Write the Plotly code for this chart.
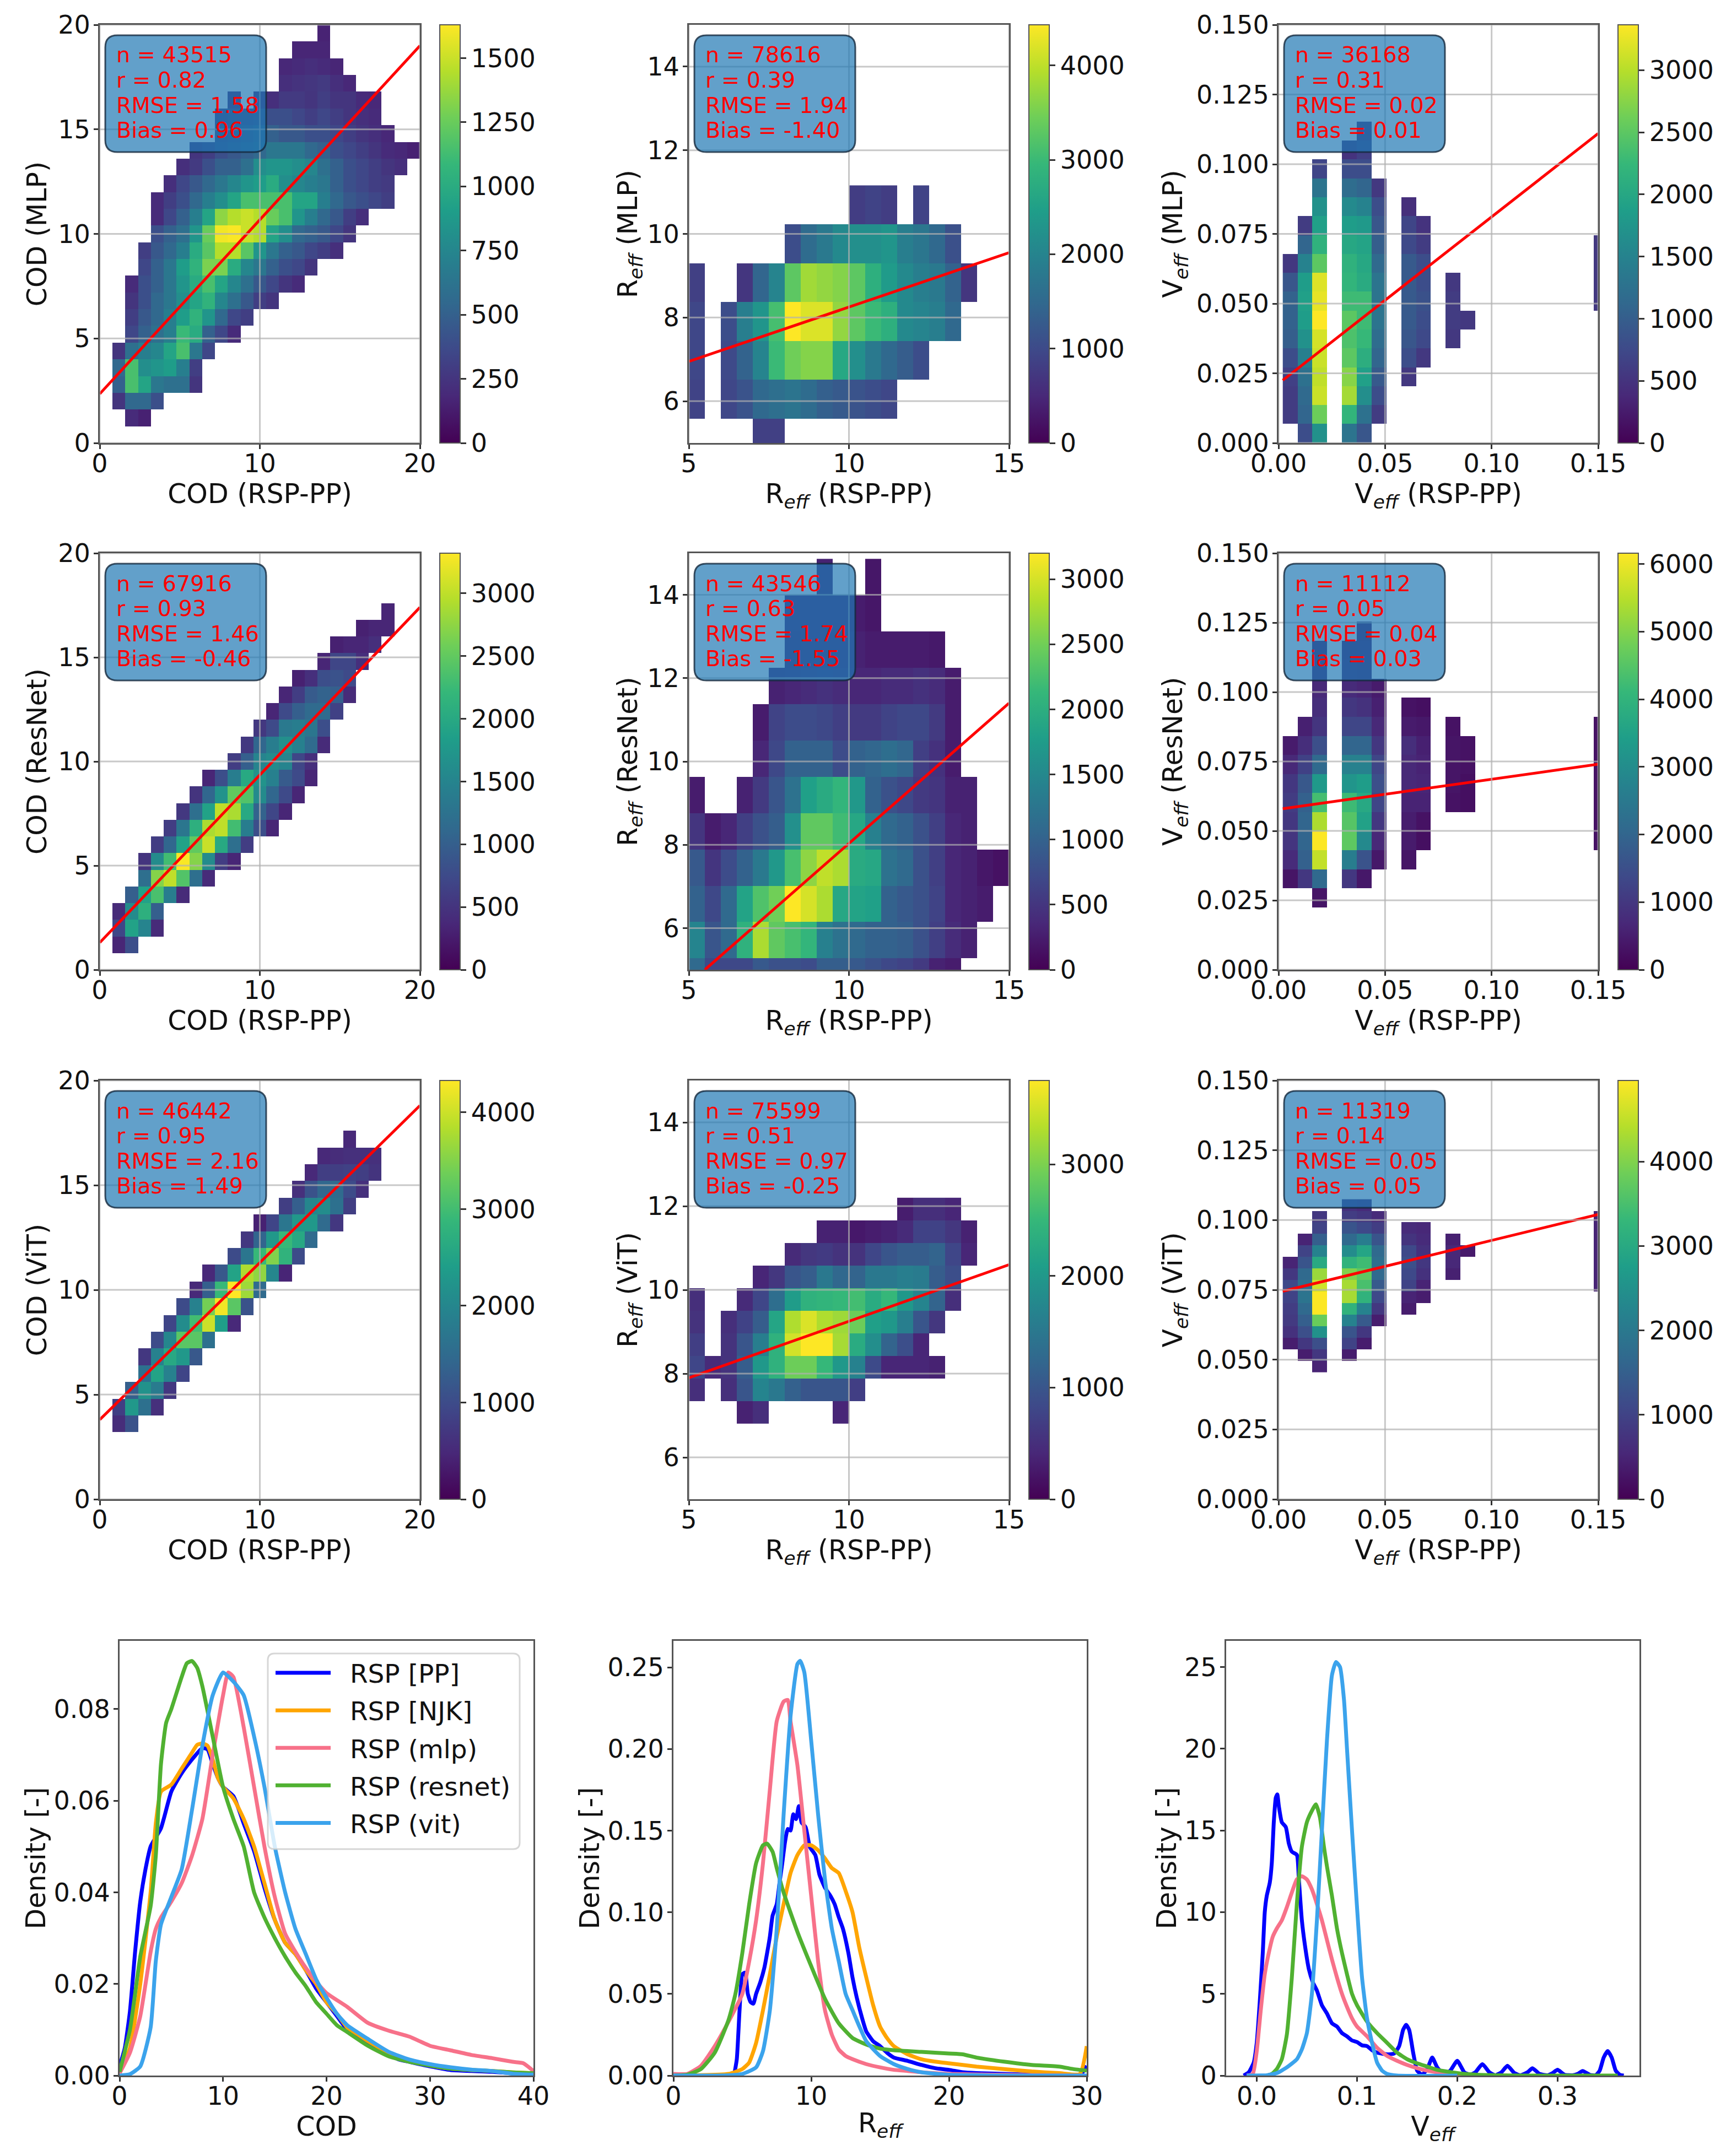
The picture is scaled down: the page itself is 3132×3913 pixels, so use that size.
import numpy as np
import plotly.graph_objects as go

W, H = 3132, 3913
FONT = "DejaVu Sans"
BODY_MARGIN = 8  # browser default margin round the plot div

# ---- 2d histogram counts as (line, first cell, values)
COD_MLP = [
    (1, 2, [200, 150]),
    (2, 1, [250, 550, 550, 400]),
    (3, 1, [500, 1150, 950, 650, 600, 600, 250]),
    (4, 1, [550, 1150, 800, 850, 900, 700, 300]),
    (5, 1, [250, 600, 700, 750, 950, 1150, 650, 350]),
    (6, 2, [350, 500, 600, 700, 1100, 1000, 500, 350, 200]),
    (7, 2, [300, 450, 550, 700, 900, 1050, 850, 550, 350, 300]),
    (8, 2, [250, 400, 550, 650, 800, 950, 1050, 750, 600, 450, 300, 250]),
    (9, 2, [200, 400, 500, 650, 850, 1000, 1150, 950, 750, 600, 450, 350, 250, 200]),
    (10, 3, [350, 500, 650, 900, 1050, 1300, 1300, 1000, 750, 650, 500, 400, 350, 250]),
    (11, 3, [300, 450, 550, 700, 1000, 1200, 1450, 1450, 1200, 850, 650, 500, 450, 350, 300, 220]),
    (12, 4, [400, 500, 600, 850, 1250, 1600, 1620, 1500, 1450, 950, 800, 550, 500, 450, 350, 250]),
    (13, 4, [200, 350, 500, 700, 950, 1350, 1450, 1500, 1450, 1250, 1150, 850, 700, 550, 450, 300, 220]),
    (14, 4, [200, 300, 400, 550, 700, 800, 950, 1150, 1150, 1150, 1150, 950, 950, 700, 550, 450, 400, 350, 300]),
    (15, 5, [220, 350, 450, 550, 650, 750, 850, 900, 1000, 800, 750, 700, 650, 500, 400, 350, 300, 280]),
    (16, 6, [220, 280, 400, 500, 500, 600, 800, 850, 850, 800, 750, 600, 500, 400, 350, 300, 250, 220]),
    (17, 7, [250, 300, 400, 450, 500, 550, 650, 650, 650, 550, 500, 400, 350, 300, 250, 200, 180, 150]),
    (18, 9, [350, 400, 450, 500, 500, 450, 450, 400, 400, 350, 300, 250, 220, 180]),
    (19, 9, [300, 350, 350, 400, 400, 400, 350, 300, 350, 300, 250, 220, 200]),
    (20, 10, [200]),
    (20, 12, [200, 220, 280, 280, 250, 300, 250, 250, 200, 180]),
    (21, 14, [220, 240, 260, 280, 220, 180]),
    (22, 14, [180, 200, 220, 200, 170]),
    (23, 15, [170, 170, 170]),
    (24, 17, [160]),
]
REFF_MLP = [
    (0, 4, [850, 850]),
    (1, 0, [900]),
    (1, 2, [950, 1150, 1500, 1600, 1700, 1550, 1350, 1250, 1150, 1050, 950]),
    (2, 0, [950]),
    (2, 2, [1000, 1400, 2000, 3000, 3450, 3600, 3600, 2650, 2200, 1800, 1500, 1300, 1050]),
    (3, 0, [950]),
    (3, 2, [1050, 1900, 2300, 3100, 4430, 4200, 4200, 3700, 3300, 3000, 2800, 2100, 2000, 1900, 1500]),
    (4, 0, [850]),
    (4, 3, [700, 1450, 2000, 3300, 3800, 3700, 3600, 3300, 2800, 2400, 2100, 1900, 1800, 1400, 700]),
    (5, 6, [1050, 1550, 1800, 2100, 2200, 2200, 2300, 1900, 1750, 1500, 1100]),
    (6, 10, [800, 900, 800]),
    (6, 14, [900]),
]
VEFF_MLP = [
    (0, 1, [600, 600, 650, 800, 1000, 1050, 1050, 900, 550]),
    (1, 0, [800, 1100, 1150, 1250, 1450, 1700, 1850, 1900, 1850, 1500, 1100, 600]),
    (2, 0, [1700, 2600, 3100, 3050, 3100, 3150, 3370, 3250, 3200, 2500, 2150, 1900, 1700, 1300, 700]),
    (4, 0, [1300, 2200, 2900, 2750, 2500, 2400, 2500, 2300, 2200, 2150, 2000, 1850, 1600, 1200, 800, 500]),
    (5, 0, [900, 1250, 1650, 1900, 2100, 2250, 2300, 2300, 2050, 2000, 1950, 1800, 1500, 1100, 800, 650, 500]),
    (6, 1, [600, 800, 950, 1100, 1200, 1300, 1300, 1300, 1150, 1000, 900, 800, 550]),
    (8, 3, [550, 800, 900, 950, 950, 950, 950, 750, 700, 450]),
    (9, 4, [550, 750, 800, 850, 800, 800, 600, 500]),
    (11, 5, [550, 600, 600, 550]),
    (12, 6, [550]),
    (21, 7, [550, 550, 550, 550]),
]
COD_RESNET = [
    (1, 1, [350, 800]),
    (2, 1, [700, 1900, 1500, 400]),
    (3, 1, [400, 1600, 2100, 1000]),
    (4, 2, [1000, 1900, 2350, 1400, 400]),
    (5, 3, [1200, 2700, 3000, 2400, 1200, 400]),
    (6, 3, [500, 1600, 2300, 3300, 2700, 1600, 600, 350]),
    (7, 4, [600, 1100, 1900, 2500, 3050, 2000, 1200, 600]),
    (8, 5, [600, 1300, 2100, 2900, 3000, 2300, 1400, 800, 350]),
    (9, 6, [550, 1200, 1900, 3000, 2900, 2000, 1050, 700, 350]),
    (10, 7, [500, 1100, 1700, 2500, 2400, 1600, 1100, 750, 350]),
    (11, 8, [350, 800, 1400, 2000, 1700, 1450, 950, 750, 350]),
    (12, 10, [600, 1000, 1500, 1600, 1500, 700, 450]),
    (13, 11, [550, 1100, 1400, 1650, 1450, 1150, 400]),
    (14, 12, [550, 750, 1350, 1400, 1300, 800]),
    (15, 13, [350, 750, 1000, 1150, 1150, 650]),
    (16, 14, [350, 600, 950, 1050, 1000, 400]),
    (17, 15, [300, 450, 800, 850, 750]),
    (18, 17, [350, 700, 700, 450]),
    (19, 18, [300, 350, 350, 450]),
    (20, 20, [300, 350, 350]),
    (21, 22, [350]),
]
REFF_RESNET = [
    (0, 0, [1100, 700, 700, 700, 900, 800, 800, 750, 950, 950, 900, 800, 700, 650, 550, 300, 250]),
    (1, 0, [1450, 850, 1100, 2050, 2800, 2400, 2250, 2100, 1400, 1200, 1100, 1000, 1000, 950, 800, 600, 400, 300]),
    (2, 0, [1000, 700, 1100, 1850, 2300, 2500, 3200, 3000, 2800, 1900, 1850, 1800, 1000, 900, 800, 650, 350, 300, 250]),
    (3, 0, [900, 500, 750, 1000, 1300, 1700, 2250, 2650, 2900, 2800, 1950, 1900, 1200, 1100, 800, 600, 350, 300, 200, 150]),
    (4, 0, [500, 250, 350, 600, 800, 950, 1600, 2400, 2400, 2200, 1900, 1400, 1100, 1000, 800, 600, 350, 300]),
    (5, 0, [250]),
    (5, 3, [300, 550, 850, 1200, 1800, 1950, 2100, 1700, 1000, 800, 700, 550, 500, 300, 300]),
    (6, 4, [350, 700, 1000, 1000, 1000, 750, 1000, 1050, 1150, 1050, 600, 450, 250]),
    (7, 4, [250, 650, 750, 750, 700, 600, 550, 550, 650, 700, 700, 550, 250]),
    (8, 5, [300, 350, 400, 450, 400, 350, 350, 400, 400, 450, 400, 250]),
    (9, 6, [300, 350, 350, 350, 300, 250, 250, 250, 250, 220]),
    (10, 6, [350, 350, 350, 350, 250, 200]),
    (11, 8, [300]),
    (11, 11, [200]),
]
VEFF_RESNET = [
    (0, 1, [350, 750, 950, 1000, 1100, 1000, 700, 450]),
    (1, 1, [1000, 1900, 2000, 2000, 1900, 1700, 1200, 800, 550]),
    (2, 0, [350, 2100, 5600, 6150, 5400, 4300, 3300, 2100, 1500, 950, 800, 700, 550, 400]),
    (4, 1, [1000, 2600, 4600, 4500, 4200, 3200, 2700, 2000, 1300, 1000, 750, 600, 450]),
    (5, 1, [400, 1600, 2900, 3500, 3700, 3400, 2700, 2000, 1300, 900, 650, 550, 500, 400]),
    (6, 2, [400, 700, 1000, 1300, 1500, 1300, 1000, 700, 550, 450]),
    (8, 2, [350, 450, 500, 600, 700, 700, 800, 450, 300]),
    (9, 3, [250, 300, 600, 650, 600, 550, 400, 250]),
    (11, 5, [300, 350, 350, 350, 300]),
    (12, 5, [250, 250, 300, 300]),
    (21, 3, [300, 300, 300, 300, 300, 300, 300]),
]
COD_VIT = [
    (4, 1, [550, 1100]),
    (5, 1, [800, 2300, 1600, 600]),
    (6, 2, [1300, 2200, 1800, 700]),
    (7, 3, [1600, 2500, 1900, 900]),
    (8, 3, [700, 1900, 2600, 2300, 1200]),
    (9, 4, [1000, 2000, 3200, 3200, 1600]),
    (10, 5, [900, 2100, 3000, 4000, 2400, 500]),
    (11, 6, [1000, 1900, 3400, 4250, 3200, 1100]),
    (12, 7, [500, 1300, 2900, 4330, 3700, 1500]),
    (13, 8, [500, 1200, 2500, 3800, 3600, 2000, 450]),
    (14, 10, [1000, 1700, 2900, 3500, 2800, 1000]),
    (15, 11, [700, 1400, 2300, 2900, 2600, 1500]),
    (16, 12, [400, 900, 1700, 2300, 2300, 1500, 700]),
    (17, 14, [800, 1300, 2000, 2100, 1600, 800]),
    (18, 15, [600, 1100, 1450, 1500, 1000, 600]),
    (19, 16, [500, 800, 800, 850, 800, 650]),
    (20, 17, [500, 550, 600, 600, 600]),
    (21, 19, [500]),
]
REFF_VIT = [
    (0, 3, [350, 500]),
    (0, 9, [400]),
    (1, 0, [500]),
    (1, 2, [500, 1000, 1700, 1500, 1150, 1000, 1000, 1000, 700]),
    (2, 0, [800, 450, 550, 1100, 2000, 2400, 2900, 2900, 2500, 2000, 1650, 850, 400, 400, 400, 350]),
    (3, 0, [700]),
    (3, 2, [550, 1000, 1600, 2400, 3500, 3750, 3750, 3250, 2300, 1850, 1200, 900, 400]),
    (4, 0, [550]),
    (4, 2, [500, 750, 1100, 2200, 3300, 3550, 3300, 3200, 2900, 2100, 2000, 1600, 1000, 600]),
    (5, 0, [500]),
    (5, 3, [450, 800, 1350, 2050, 2400, 2450, 2500, 2600, 2300, 2500, 2000, 1700, 1200, 500]),
    (6, 4, [400, 600, 1000, 1100, 1500, 1250, 1200, 1500, 1500, 1600, 1550, 1100, 900]),
    (7, 6, [450, 600, 650, 550, 550, 800, 1000, 1100, 1100, 1200, 800, 400]),
    (8, 8, [350, 350, 250, 300, 350, 450, 750, 750, 600, 350]),
    (9, 13, [300, 500, 500, 400]),
]
VEFF_VIT = [
    (0, 2, [400, 700, 850, 900, 1000, 1100, 800, 500]),
    (1, 1, [400, 800, 1200, 1500, 1700, 1900, 1800, 1700, 1300, 1000, 500]),
    (2, 0, [500, 800, 1200, 2500, 3800, 4950, 4950, 4600, 4200, 3000, 2200, 1500, 1000, 800]),
    (4, 1, [400, 1000, 1300, 2200, 3200, 4300, 4300, 4000, 3200, 2400, 1700, 1300, 900, 700]),
    (5, 2, [400, 800, 1400, 2200, 3200, 3500, 3700, 3400, 2900, 2100, 1100, 800, 600]),
    (6, 4, [400, 800, 1100, 1400, 1700, 1800, 1700, 1300, 900, 600]),
    (8, 5, [400, 500, 1000, 1100, 1200, 1100, 750, 600]),
    (9, 6, [400, 500, 700, 800, 700, 600, 550]),
    (11, 8, [450, 550, 550, 450]),
    (12, 10, [350]),
    (21, 7, [500, 500, 500, 500, 500, 500, 500]),
]

# bin edges
COD_EDGES = np.arange(26) * 0.8
REFF_X_EDGES = 5 + np.arange(21) * 0.5
VEFF_X_EDGES = 0.002 + np.arange(23) * 0.00695
REFF_MLP_Y = 4.65 + np.arange(8) * 0.93
REFF_RESNET_Y = 4.40 + np.arange(13) * 0.872
REFF_VIT_Y = 6.81 + np.arange(11) * 0.539
VEFF_MLP_Y = np.arange(18) * 0.00678
VEFF_RESNET_Y = 0.0225 + np.arange(16) * 0.00686
VEFF_VIT_Y = 0.0455 + np.arange(16) * 0.00413

# regression lines, (x0, x1), (y0, y1)
FIT_LINES = [
    ((0, 20), (2.35, 19.0)), ((5, 15), (6.95, 9.55)), ((0.002, 0.15), (0.0225, 0.111)),
    ((0, 20), (1.3, 17.4)), ((5.5, 15), (5.0, 11.4)), ((0.002, 0.15), (0.058, 0.074)),
    ((0, 20), (3.8, 18.8)), ((5, 15), (7.9, 10.6)), ((0.002, 0.15), (0.0745, 0.102)),
]
STATS = [
    ("43515", "0.82", "1.58", "0.96"), ("78616", "0.39", "1.94", "-1.40"), ("36168", "0.31", "0.02", "0.01"),
    ("67916", "0.93", "1.46", "-0.46"), ("43546", "0.63", "1.74", "-1.55"), ("11112", "0.05", "0.04", "0.03"),
    ("46442", "0.95", "2.16", "1.49"), ("75599", "0.51", "0.97", "-0.25"), ("11319", "0.14", "0.05", "0.05"),
]
ZMAX = [1630, 4430, 3365, 3320, 3200, 6160, 4330, 3750, 4960]
CBAR_TICK = [250, 1000, 500, 500, 500, 1000, 1000, 1000, 1000]

# ---- density curves
COD_X_PP = [0, 0.5, 1, 1.5, 2, 2.5, 3, 4, 5, 6, 7, 8, 8.5, 9, 9.5, 10, 11, 12, 13, 14, 15, 16, 17, 18, 19, 20, 21, 22, 23, 24, 25, 26, 27, 28, 30, 32, 34, 36, 38, 40]
COD_Y_PP = [0.002, 0.006, 0.014, 0.027, 0.038, 0.045, 0.05, 0.054, 0.062, 0.066, 0.069, 0.0715, 0.0712, 0.068, 0.065, 0.063, 0.061, 0.055, 0.049, 0.041, 0.034, 0.029, 0.0265, 0.023, 0.019, 0.016, 0.013, 0.01, 0.0085, 0.007, 0.0055, 0.0045, 0.0035, 0.003, 0.002, 0.0012, 0.001, 0.0008, 0.0005, 0.0003]
COD_X_NJK = [0, 1, 2, 3, 3.5, 4, 5, 6, 7, 7.5, 8, 8.5, 9, 9.5, 10, 11, 12, 13, 14, 15, 16, 17, 18, 19, 20, 21, 22, 23, 24, 25, 26, 27, 28, 30, 32, 34, 36, 38, 40]
COD_Y_NJK = [0.0005, 0.006, 0.02, 0.04, 0.055, 0.062, 0.0635, 0.067, 0.0705, 0.0722, 0.0725, 0.072, 0.069, 0.065, 0.063, 0.0605, 0.056, 0.05, 0.042, 0.034, 0.029, 0.0265, 0.023, 0.02, 0.016, 0.0135, 0.0105, 0.009, 0.0075, 0.0062, 0.005, 0.004, 0.0033, 0.0022, 0.0015, 0.0012, 0.001, 0.0007, 0.0005]
COD_X_MLP = [0, 1, 2, 3, 3.5, 4, 5, 6, 7, 8, 9, 10, 10.5, 11, 12, 13, 14, 15, 16, 17, 18, 19, 20, 22, 24, 26, 28, 30, 32, 34, 36, 38, 39, 40]
COD_Y_MLP = [0.0005, 0.005, 0.013, 0.027, 0.032, 0.0345, 0.038, 0.042, 0.048, 0.056, 0.07, 0.083, 0.088, 0.087, 0.076, 0.063, 0.05, 0.039, 0.031, 0.027, 0.0235, 0.0205, 0.018, 0.015, 0.0115, 0.0098, 0.0085, 0.0065, 0.0055, 0.0045, 0.0038, 0.003, 0.0027, 0.001]
COD_X_RES = [0, 1, 2, 3, 3.5, 4, 4.5, 5, 6, 6.5, 7, 7.5, 8, 9, 10, 11, 12, 13, 14, 15, 16, 17, 18, 19, 20, 21, 22, 24, 26, 28, 30, 32, 34, 36, 38, 40]
COD_Y_RES = [0.0008, 0.01, 0.026, 0.037, 0.048, 0.068, 0.077, 0.08, 0.087, 0.09, 0.0905, 0.089, 0.085, 0.074, 0.063, 0.056, 0.05, 0.04, 0.0345, 0.03, 0.026, 0.0225, 0.0195, 0.016, 0.0135, 0.011, 0.0095, 0.0065, 0.0042, 0.003, 0.0022, 0.0015, 0.0012, 0.001, 0.0007, 0.0005]
COD_X_VIT = [0, 1, 2, 3, 3.5, 4, 5, 6, 7, 8, 9, 10, 11, 12, 13, 14, 15, 16, 17, 18, 19, 20, 21, 22, 24, 26, 28, 30, 32, 34, 36, 38, 40]
COD_Y_VIT = [0, 0.0003, 0.002, 0.0105, 0.025, 0.033, 0.039, 0.045, 0.058, 0.072, 0.083, 0.088, 0.086, 0.083, 0.074, 0.063, 0.05, 0.04, 0.032, 0.0265, 0.021, 0.017, 0.0135, 0.011, 0.008, 0.0052, 0.0035, 0.0025, 0.0018, 0.0013, 0.001, 0.0004, 0.0002]

REFF_X_PP = [4.4, 4.6, 4.8, 5, 5.2, 5.4, 5.6, 5.8, 6, 6.3, 6.6, 6.8, 7, 7.2, 7.5, 7.7, 7.9, 8.1, 8.3, 8.5, 8.7, 8.9, 9.1, 9.3, 9.6, 9.9, 10.3, 10.6, 11, 11.4, 11.7, 12, 12.3, 12.7, 13, 13.3, 13.7, 14, 14.5, 15, 15.5, 16, 17, 18, 19, 20, 21, 22, 24, 26, 28, 29.5, 30]
REFF_Y_PP = [0, 0.01, 0.04, 0.062, 0.063, 0.05, 0.045, 0.044, 0.05, 0.057, 0.066, 0.075, 0.085, 0.098, 0.105, 0.118, 0.13, 0.143, 0.151, 0.15, 0.16, 0.157, 0.165, 0.155, 0.152, 0.14, 0.135, 0.123, 0.115, 0.11, 0.105, 0.097, 0.09, 0.075, 0.06, 0.048, 0.035, 0.027, 0.021, 0.018, 0.014, 0.011, 0.009, 0.0065, 0.0045, 0.0035, 0.002, 0.0015, 0.001, 0.0005, 0.0002, 0, 0.006]
REFF_X_NJK = [0, 4, 5, 5.5, 6, 6.5, 7, 7.5, 8, 8.5, 9, 9.5, 10, 10.5, 11, 11.5, 12, 12.5, 13, 13.5, 14, 14.5, 15, 15.5, 16, 17, 18, 19, 20, 22, 24, 26, 28, 29.5, 30]
REFF_Y_NJK = [0, 0.001, 0.004, 0.008, 0.02, 0.04, 0.062, 0.085, 0.105, 0.124, 0.135, 0.141, 0.141, 0.138, 0.133, 0.127, 0.124, 0.113, 0.1, 0.078, 0.06, 0.043, 0.03, 0.023, 0.018, 0.013, 0.01, 0.0085, 0.0075, 0.0055, 0.004, 0.0025, 0.0015, 0.001, 0.018]
REFF_X_MLP = [0, 1, 2, 3, 4, 5, 5.5, 6, 6.5, 7, 7.5, 8, 8.3, 8.5, 9, 9.5, 10, 10.5, 11, 11.5, 12, 12.5, 13, 14, 15, 16, 17, 18, 20, 25, 30]
REFF_Y_MLP = [0.001, 0.001, 0.006, 0.018, 0.033, 0.05, 0.07, 0.095, 0.13, 0.175, 0.217, 0.229, 0.23, 0.217, 0.19, 0.15, 0.11, 0.07, 0.04, 0.025, 0.016, 0.012, 0.01, 0.007, 0.005, 0.0035, 0.0028, 0.002, 0.001, 0.0003, 0]
REFF_X_RES = [0, 1, 2, 3, 4, 4.5, 5, 5.5, 6, 6.5, 6.8, 7.2, 7.5, 8, 9, 10, 11, 12, 13, 14, 15, 16, 18, 20, 21, 22, 24, 26, 28, 29, 30]
REFF_Y_RES = [0, 0.0005, 0.004, 0.014, 0.034, 0.05, 0.075, 0.105, 0.13, 0.141, 0.142, 0.137, 0.127, 0.112, 0.088, 0.067, 0.047, 0.032, 0.023, 0.019, 0.0165, 0.0155, 0.0145, 0.0135, 0.013, 0.011, 0.0085, 0.0065, 0.0055, 0.004, 0.003]
REFF_X_VIT = [0, 4, 5, 6, 6.5, 7, 7.5, 8, 8.5, 9, 9.2, 9.5, 10, 10.5, 11, 11.5, 12, 12.5, 13, 13.5, 14, 15, 16, 17, 18, 20, 25, 30]
REFF_Y_VIT = [0, 0.0002, 0.001, 0.005, 0.015, 0.04, 0.09, 0.16, 0.22, 0.252, 0.254, 0.247, 0.205, 0.16, 0.12, 0.09, 0.07, 0.05, 0.04, 0.03, 0.021, 0.012, 0.007, 0.004, 0.002, 0.0005, 0, 0]

VEFF_X_PP = [-0.013, -0.008, -0.003, 0, 0.003, 0.006, 0.008, 0.01, 0.013, 0.015, 0.017, 0.019, 0.0205, 0.022, 0.025, 0.029, 0.032, 0.035, 0.04, 0.042, 0.045, 0.048, 0.052, 0.056, 0.06, 0.065, 0.07, 0.075, 0.08, 0.085, 0.09, 0.095, 0.1, 0.105, 0.11, 0.115, 0.12, 0.13, 0.137, 0.142, 0.146, 0.149, 0.152, 0.156, 0.16, 0.165, 0.17, 0.175, 0.18, 0.187, 0.193, 0.2, 0.207, 0.213, 0.218, 0.225, 0.232, 0.238, 0.244, 0.25, 0.257, 0.263, 0.27, 0.275, 0.282, 0.29, 0.295, 0.3, 0.307, 0.315, 0.32, 0.325, 0.332, 0.338, 0.342, 0.346, 0.35, 0.354, 0.358, 0.362, 0.366]
VEFF_Y_PP = [0, 0.2, 0.8, 2, 4.5, 7.5, 10, 11, 11.8, 13, 15.5, 17, 17.2, 16.5, 15.5, 15.2, 14.2, 13.7, 13.5, 12, 9.5, 8, 6.5, 5.7, 5.2, 4.3, 3.8, 3.2, 3, 2.6, 2.4, 2.15, 2.05, 1.85, 1.8, 1.55, 1.4, 1.3, 1.35, 1.8, 2.8, 3.1, 2.8, 1.4, 0.3, 0.05, 0.4, 1.1, 0.5, 0.05, 0.3, 0.9, 0.2, 0.05, 0.2, 0.7, 0.2, 0.02, 0.2, 0.6, 0.15, 0.02, 0.2, 0.45, 0.1, 0.02, 0.15, 0.35, 0.05, 0.02, 0.1, 0.28, 0.05, 0.02, 0.3, 1.1, 1.5, 1.1, 0.3, 0.05, 0]
VEFF_X_MLP = [-0.01, -0.004, 0, 0.004, 0.008, 0.012, 0.016, 0.02, 0.025, 0.03, 0.035, 0.04, 0.045, 0.05, 0.055, 0.06, 0.065, 0.07, 0.075, 0.08, 0.085, 0.09, 0.095, 0.1, 0.11, 0.12, 0.13, 0.14, 0.15, 0.16, 0.17, 0.18, 0.2, 0.22, 0.25]
VEFF_Y_MLP = [0, 0.1, 1.5, 4, 6.2, 7.5, 8.5, 9, 9.5, 10.3, 11.2, 12, 12.2, 12, 11.4, 10.5, 9.5, 8.3, 7.1, 6, 5, 4.2, 3.5, 3, 2.4, 1.7, 1.2, 0.9, 0.65, 0.45, 0.3, 0.2, 0.08, 0.02, 0]
VEFF_X_RES = [0.01, 0.015, 0.02, 0.025, 0.03, 0.035, 0.04, 0.045, 0.05, 0.055, 0.059, 0.063, 0.067, 0.07, 0.075, 0.08, 0.085, 0.09, 0.095, 0.1, 0.11, 0.12, 0.13, 0.14, 0.15, 0.16, 0.17, 0.18, 0.2, 0.22, 0.25, 0.3, 0.36]
VEFF_Y_RES = [0, 0.1, 0.4, 1, 2.5, 6, 10.5, 14, 15.5, 16.2, 16.6, 15.8, 14, 12.8, 11, 9, 7.5, 6.2, 5, 4.3, 3.3, 2.6, 2, 1.4, 1, 0.75, 0.55, 0.35, 0.15, 0.05, 0.01, 0, 0]
VEFF_X_VIT = [-0.01, 0.01, 0.02, 0.03, 0.04, 0.045, 0.05, 0.055, 0.06, 0.065, 0.07, 0.075, 0.079, 0.083, 0.087, 0.09, 0.095, 0.1, 0.105, 0.11, 0.115, 0.12, 0.125, 0.13, 0.14, 0.2]
VEFF_Y_VIT = [0, 0.02, 0.15, 0.5, 1, 1.6, 2.6, 5, 9.5, 15, 20.5, 24.5, 25.3, 25, 23, 20, 15, 10.3, 6, 3.5, 2, 0.8, 0.3, 0.1, 0, 0]

COLORS = {"RSP [PP]": "#0000ff", "RSP [NJK]": "#ffa500", "RSP (mlp)": "#f77189",
          "RSP (resnet)": "#50b131", "RSP (vit)": "#3ba3ec"}

# pixel boxes of the axes in the picture
COL_X = [(181, 762), (1250, 1831), (2320, 2900)]
CBAR_X = [(798, 835), (1867, 1904), (2936, 2973)]
ROW_Y = [(45, 804), (1004, 1760), (1961, 2721)]
DENS_X = [(217, 968), (1222, 1972), (2225, 2975)]
DENS_Y = (2978, 3767)
YTITLE_STANDOFF = [6, 0, 10]


def grid(runs, n_rows, n_cols, by_col=False):
    z = [[None] * n_cols for _ in range(n_rows)]
    for line, first, vals in runs:
        for i, v in enumerate(vals):
            if by_col:
                z[first + i][line] = v
            else:
                z[line][first + i] = v
    return z


def px_x(v):
    return (v - BODY_MARGIN) / W


def px_y(v):
    return 1 - (v - BODY_MARGIN) / H


def box_path(x0, y0, x1, y1, r):
    # rounded box, pixels to paper fractions
    X0, X1, Y0, Y1 = px_x(x0), px_x(x1), px_y(y0), px_y(y1)
    rx, ry = r / W, r / H
    return (f"M {X0 + rx} {Y0} L {X1 - rx} {Y0} Q {X1} {Y0} {X1} {Y0 - ry} "
            f"L {X1} {Y1 + ry} Q {X1} {Y1} {X1 - rx} {Y1} L {X0 + rx} {Y1} "
            f"Q {X0} {Y1} {X0} {Y1 + ry} L {X0} {Y0 - ry} Q {X0} {Y0} {X0 + rx} {Y0} Z")


def axis_style(x0, x1, rng, tickvals, tickformat, title, standoff, label_shift):
    return dict(
        domain=[x0, x1], range=rng, tickvals=tickvals, tickformat=tickformat,
        showgrid=False, zeroline=False, showline=True, mirror=True,
        linecolor="#555555", linewidth=3, ticks="outside", ticklen=8,
        tickwidth=3, tickcolor="#333333", tickfont=dict(size=46, color="#111111"),
        ticklabelstandoff=label_shift,
        title=dict(text=title, font=dict(size=49, color="#111111"), standoff=standoff),
        automargin=False,
    )


R = "R<sub><i>eff</i></sub>"
V = "V<sub><i>eff</i></sub>"
PANELS = [
    (grid(COD_MLP, 25, 25), COD_EDGES, COD_EDGES, "COD (MLP)"),
    (grid(REFF_MLP, 7, 20), REFF_X_EDGES, REFF_MLP_Y, R + " (MLP)"),
    (grid(VEFF_MLP, 17, 22, True), VEFF_X_EDGES, VEFF_MLP_Y, V + " (MLP)"),
    (grid(COD_RESNET, 25, 25), COD_EDGES, COD_EDGES, "COD (ResNet)"),
    (grid(REFF_RESNET, 12, 20), REFF_X_EDGES, REFF_RESNET_Y, R + " (ResNet)"),
    (grid(VEFF_RESNET, 15, 22, True), VEFF_X_EDGES, VEFF_RESNET_Y, V + " (ResNet)"),
    (grid(COD_VIT, 25, 25), COD_EDGES, COD_EDGES, "COD (ViT)"),
    (grid(REFF_VIT, 10, 20), REFF_X_EDGES, REFF_VIT_Y, R + " (ViT)"),
    (grid(VEFF_VIT, 15, 22, True), VEFF_X_EDGES, VEFF_VIT_Y, V + " (ViT)"),
]
COL_AXES = [
    ("COD (RSP-PP)", [0, 20], [0, 10, 20], [0, 5, 10, 15, 20], "d", "d"),
    (R + " (RSP-PP)", [5, 15], [5, 10, 15], [6, 8, 10, 12, 14], "d", "d"),
    (V + " (RSP-PP)", [0, 0.15], [0, 0.05, 0.10, 0.15], [0, 0.025, 0.05, 0.075, 0.1, 0.125, 0.15], ".2f", ".3f"),
]
Y_RANGES = [[0, 20], [5, 15], [0, 0.15]]

fig = go.Figure()
layout_axes = {}
shapes = []
annotations = []

for i, (z, xe, ye, ylabel) in enumerate(PANELS):
    row, col = divmod(i, 3)
    n = i + 1
    xname = "x" if n == 1 else f"x{n}"
    yname = "y" if n == 1 else f"y{n}"
    top, bottom = ROW_Y[row]
    left, right = COL_X[col]
    xlabel, xrng, xticks, yticks, xfmt, yfmt = COL_AXES[col]

    fig.add_trace(go.Heatmap(
        z=z, x=xe, y=ye, xaxis=xname, yaxis=yname, colorscale="Viridis",
        zmin=0, zmax=ZMAX[i], showscale=True,
        colorbar=dict(
            x=px_x(CBAR_X[col][0]), xanchor="left", xpad=0,
            y=px_y(bottom), yanchor="bottom", ypad=0,
            len=(bottom - top) / H, lenmode="fraction",
            thickness=CBAR_X[col][1] - CBAR_X[col][0], thicknessmode="pixels",
            tick0=0, dtick=CBAR_TICK[i], ticks="outside", ticklen=10, tickwidth=3,
            tickcolor="#333333", tickfont=dict(size=46, color="#111111"),
            outlinecolor="#555555", outlinewidth=2,
        ),
    ))
    (fx0, fx1), (fy0, fy1) = FIT_LINES[i]
    fig.add_trace(go.Scatter(
        x=[fx0, fx1], y=[fy0, fy1], xaxis=xname, yaxis=yname, mode="lines",
        line=dict(color="#ff0000", width=5), showlegend=False,
    ))

    layout_axes[f"xaxis{n}"] = dict(
        axis_style(px_x(left), px_x(right), xrng, xticks, xfmt, xlabel, 7, -13), anchor=yname)
    layout_axes[f"yaxis{n}"] = dict(
        axis_style(px_y(bottom), px_y(top), Y_RANGES[col], yticks, yfmt, ylabel,
                   YTITLE_STANDOFF[col], -3), anchor=xname)

    # grid sits over the heatmap in the original
    for t in xticks:
        shapes.append(dict(type="line", xref=xname, yref=yname, x0=t, x1=t, y0=Y_RANGES[col][0],
                           y1=Y_RANGES[col][1], layer="above",
                           line=dict(color="rgba(176,176,176,0.7)", width=3)))
    for t in yticks:
        shapes.append(dict(type="line", xref=xname, yref=yname, x0=xrng[0], x1=xrng[1], y0=t, y1=t,
                           layer="above", line=dict(color="rgba(176,176,176,0.7)", width=3)))

    shapes.append(dict(type="path", xref="paper", yref="paper", layer="above",
                       path=box_path(left + 10, top + 19, left + 302, top + 231, 22),
                       fillcolor="rgba(31,119,180,0.7)",
                       line=dict(color="rgba(20,40,60,0.8)", width=3)))
    labels = ["n = ", "r = ", "RMSE = ", "Bias = "]
    for k, (lab, val) in enumerate(zip(labels, STATS[i])):
        annotations.append(dict(
            text=lab + val, xref="paper", yref="paper", x=px_x(left + 28),
            y=px_y(top + 54.5 + 45.5 * k), xanchor="left", yanchor="middle",
            showarrow=False, font=dict(size=39.7, color="#ff0000"),
        ))

DENSITY = [
    ("COD", [0, 40], [0, 10, 20, 30, 40], [0, 0.0949], [0, 0.02, 0.04, 0.06, 0.08], "d", ".2f", [
        ("RSP [PP]", COD_X_PP, COD_Y_PP), ("RSP [NJK]", COD_X_NJK, COD_Y_NJK),
        ("RSP (mlp)", COD_X_MLP, COD_Y_MLP), ("RSP (resnet)", COD_X_RES, COD_Y_RES),
        ("RSP (vit)", COD_X_VIT, COD_Y_VIT)]),
    (R, [0, 30], [0, 10, 20, 30], [0, 0.2662], [0, 0.05, 0.1, 0.15, 0.2, 0.25], "d", ".2f", [
        ("RSP [PP]", REFF_X_PP, REFF_Y_PP), ("RSP [NJK]", REFF_X_NJK, REFF_Y_NJK),
        ("RSP (mlp)", REFF_X_MLP, REFF_Y_MLP), ("RSP (resnet)", REFF_X_RES, REFF_Y_RES),
        ("RSP (vit)", REFF_X_VIT, REFF_Y_VIT)]),
    (V, [-0.0305, 0.3817], [0, 0.1, 0.2, 0.3], [0, 26.6], [0, 5, 10, 15, 20, 25], ".1f", "d", [
        ("RSP [PP]", VEFF_X_PP, VEFF_Y_PP), ("RSP (mlp)", VEFF_X_MLP, VEFF_Y_MLP),
        ("RSP (resnet)", VEFF_X_RES, VEFF_Y_RES), ("RSP (vit)", VEFF_X_VIT, VEFF_Y_VIT)]),
]

for j, (xlabel, xrng, xticks, yrng, yticks, xfmt, yfmt, curves) in enumerate(DENSITY):
    n = 10 + j
    for name, xs, ys in curves:
        fig.add_trace(go.Scatter(
            x=xs, y=ys, xaxis=f"x{n}", yaxis=f"y{n}", mode="lines", name="\u00a0\u00a0" + name,
            line=dict(color=COLORS[name], width=7, shape="spline", smoothing=0.5),
            legendgroup=name, showlegend=(j == 0),
        ))
    layout_axes[f"xaxis{n}"] = dict(
        axis_style(px_x(DENS_X[j][0]), px_x(DENS_X[j][1]), xrng, xticks, xfmt, xlabel, 6, -13), anchor=f"y{n}")
    layout_axes[f"yaxis{n}"] = dict(
        axis_style(px_y(DENS_Y[1]), px_y(DENS_Y[0]), yrng, yticks, yfmt, "Density [-]", 0, -3), anchor=f"x{n}")

# legend frame
shapes.append(dict(type="path", xref="paper", yref="paper", layer="above",
                   path=box_path(486, 3001, 943, 3356, 12), fillcolor="rgba(255,255,255,0.8)",
                   line=dict(color="rgba(204,204,204,0.8)", width=3)))

fig.update_layout(
    width=W, height=H, autosize=False, margin=dict(l=0, r=0, t=0, b=0),
    paper_bgcolor="white", plot_bgcolor="white", font=dict(family=FONT, size=46, color="#111111"),
    shapes=shapes, annotations=annotations,
    legend=dict(x=px_x(495), xanchor="left", y=px_y(2999), yanchor="top", bgcolor="rgba(0,0,0,0)",
                font=dict(size=47, color="#111111"), itemwidth=100, tracegroupgap=4,
                traceorder="grouped"),
    **layout_axes,
)

fig.write_html("out.html")
